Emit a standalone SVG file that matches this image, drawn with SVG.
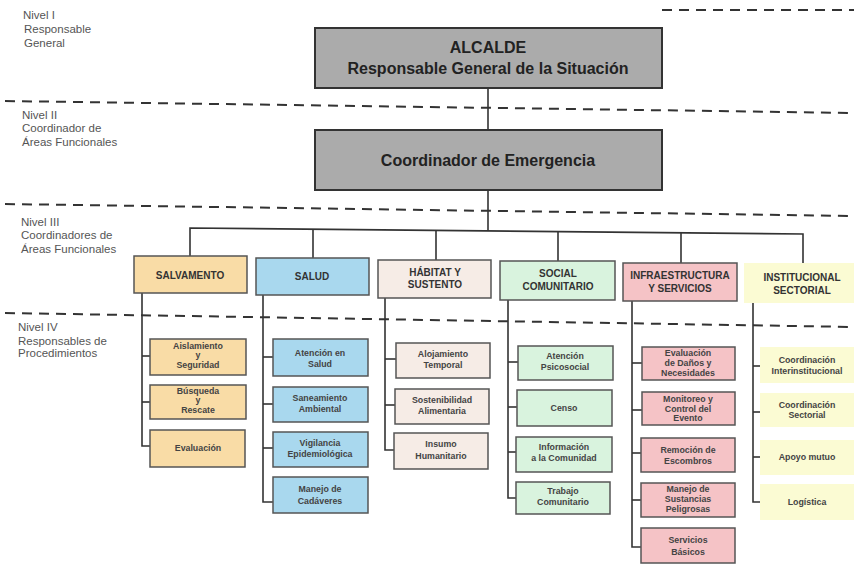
<svg xmlns="http://www.w3.org/2000/svg" width="854" height="568" viewBox="0 0 854 568">
<style>
.bg{fill:#ffffff}
.lvl{font-family:"Liberation Sans",Arial,sans-serif;font-size:11.5px;fill:#555}
.dash{stroke:#333;stroke-width:2;stroke-dasharray:10 7;fill:none}
.con{stroke:#333;stroke-width:1.6;fill:none}
.top rect{fill:#ababab;stroke:#333;stroke-width:2}
.top text{font-family:"Liberation Sans",Arial,sans-serif;font-size:16px;font-weight:bold;fill:#222;text-anchor:middle}
.h rect{stroke:#555;stroke-width:1.5}
.h text{font-family:"Liberation Sans",Arial,sans-serif;font-size:10px;font-weight:bold;fill:#333;text-anchor:middle}
.p rect{stroke:#555;stroke-width:1.5}
.p text{font-family:"Liberation Sans",Arial,sans-serif;font-size:8.8px;font-weight:bold;fill:#444;text-anchor:middle}
.or{fill:#f9dca6}
.bl{fill:#a9d8ee}
.be{fill:#f6ece6}
.gr{fill:#d9f3de}
.pk{fill:#f5c3c6}
.ye{fill:#fbfbd3;stroke:none!important}
</style>
<rect class="bg" width="854" height="568"/>

<g id="levels">
<line class="dash" x1="662" y1="10" x2="854" y2="10"/>
<line class="dash" x1="5" y1="101" x2="854" y2="113"/>
<line class="dash" x1="5" y1="204" x2="854" y2="216"/>
<line class="dash" x1="5" y1="313" x2="854" y2="327"/>
<text class="lvl" x="23" y="19">Nivel I</text>
<text class="lvl" x="24" y="33">Responsable</text>
<text class="lvl" x="24" y="47">General</text>
<text class="lvl" x="22" y="119">Nivel II</text>
<text class="lvl" x="22" y="132">Coordinador de</text>
<text class="lvl" x="22" y="146">Áreas Funcionales</text>
<text class="lvl" x="21" y="226">Nivel III</text>
<text class="lvl" x="21" y="239">Coordinadores de</text>
<text class="lvl" x="21" y="253">Áreas Funcionales</text>
<text class="lvl" x="18" y="331">Nivel IV</text>
<text class="lvl" x="18" y="345">Responsables de</text>
<text class="lvl" x="18" y="357">Procedimientos</text>
</g>

<g id="connectors">
<line class="con" x1="488" y1="88" x2="488" y2="130"/>
<line class="con" x1="488" y1="190" x2="488" y2="231"/>
<polyline class="con" points="190,256 190,228 803,234 803,263"/>
<line class="con" x1="313" y1="229" x2="313" y2="258"/>
<line class="con" x1="436" y1="230" x2="436" y2="260"/>
<line class="con" x1="558" y1="232" x2="558" y2="261"/>
<line class="con" x1="681" y1="233" x2="681" y2="263"/>
<polyline class="con" points="142,293 142,446 150,446"/>
<line class="con" x1="142" y1="356" x2="150" y2="356"/>
<line class="con" x1="142" y1="402" x2="150" y2="402"/>
<polyline class="con" points="263,295 263,502 273,502"/>
<line class="con" x1="263" y1="357" x2="273" y2="357"/>
<line class="con" x1="263" y1="404" x2="273" y2="404"/>
<line class="con" x1="263" y1="448" x2="273" y2="448"/>
<polyline class="con" points="385,298 385,450 394,450"/>
<line class="con" x1="385" y1="359" x2="396" y2="359"/>
<line class="con" x1="385" y1="405" x2="395" y2="405"/>
<polyline class="con" points="508,300 508,498 516,498"/>
<line class="con" x1="508" y1="362" x2="518" y2="362"/>
<line class="con" x1="508" y1="407" x2="517" y2="407"/>
<line class="con" x1="508" y1="452" x2="516" y2="452"/>
<polyline class="con" points="632,301 632,547 641,547"/>
<line class="con" x1="632" y1="363" x2="642" y2="363"/>
<line class="con" x1="632" y1="410" x2="642" y2="410"/>
<line class="con" x1="632" y1="453" x2="641" y2="453"/>
<line class="con" x1="632" y1="500" x2="641" y2="500"/>
<polyline class="con" points="753,303 753,502 762,502"/>
<line class="con" x1="753" y1="366" x2="762" y2="366"/>
<line class="con" x1="753" y1="412" x2="762" y2="412"/>
<line class="con" x1="753" y1="457" x2="762" y2="457"/>
</g>

<g id="alcalde" class="top">
<rect x="315" y="28" width="347" height="60"/>
<text x="488" y="53">ALCALDE</text>
<text x="488" y="74">Responsable General de la Situación</text>
</g>
<g id="coordinador" class="top">
<rect x="315" y="130" width="347" height="60"/>
<text x="488" y="166">Coordinador de Emergencia</text>
</g>

<g id="salvamento" class="h"><rect class="or" x="134" y="256" width="113" height="37"/><text x="190" y="279">SALVAMENTO</text></g>
<g id="salud" class="h"><rect class="bl" x="256" y="258" width="113" height="37"/><text x="312" y="280">SALUD</text></g>
<g id="habitat" class="h"><rect class="be" x="378" y="260" width="113" height="38"/><text x="435" y="276">HÁBITAT Y</text><text x="435" y="288">SUSTENTO</text></g>
<g id="social" class="h"><rect class="gr" x="500" y="261" width="115" height="39"/><text x="558" y="277">SOCIAL</text><text x="558" y="290">COMUNITARIO</text></g>
<g id="infra" class="h"><rect class="pk" x="623" y="263" width="114" height="38"/><text x="680" y="279">INFRAESTRUCTURA</text><text x="680" y="292">Y SERVICIOS</text></g>
<g id="institucional" class="h"><rect class="ye" x="744" y="263" width="110" height="40"/><text x="802" y="281">INSTITUCIONAL</text><text x="802" y="294">SECTORIAL</text></g>

<g id="aislamiento" class="p"><rect class="or" x="150" y="339" width="96" height="36"/><text x="198" y="349">Aislamiento</text><text x="198" y="358">y</text><text x="198" y="368">Seguridad</text></g>
<g id="busqueda" class="p"><rect class="or" x="150" y="385" width="96" height="34"/><text x="198" y="394">Búsqueda</text><text x="198" y="403">y</text><text x="198" y="413">Rescate</text></g>
<g id="evaluacion" class="p"><rect class="or" x="150" y="430" width="95" height="37"/><text x="198" y="451">Evaluación</text></g>

<g id="atencion-salud" class="p"><rect class="bl" x="273" y="339" width="95" height="37"/><text x="320" y="356">Atención en</text><text x="320" y="367">Salud</text></g>
<g id="saneamiento" class="p"><rect class="bl" x="273" y="387" width="95" height="35"/><text x="320" y="401">Saneamiento</text><text x="320" y="412">Ambiental</text></g>
<g id="vigilancia" class="p"><rect class="bl" x="273" y="432" width="95" height="35"/><text x="320" y="446">Vigilancia</text><text x="320" y="457">Epidemiológica</text></g>
<g id="cadaveres" class="p"><rect class="bl" x="273" y="477" width="95" height="36"/><text x="320" y="492">Manejo de</text><text x="320" y="504">Cadáveres</text></g>

<g id="alojamiento" class="p"><rect class="be" x="396" y="343" width="94" height="35"/><text x="443" y="357">Alojamiento</text><text x="443" y="368">Temporal</text></g>
<g id="sostenibilidad" class="p"><rect class="be" x="395" y="389" width="94" height="35"/><text x="442" y="403">Sostenibilidad</text><text x="442" y="414">Alimentaria</text></g>
<g id="insumo" class="p"><rect class="be" x="394" y="433" width="94" height="36"/><text x="441" y="447">Insumo</text><text x="441" y="459">Humanitario</text></g>

<g id="psicosocial" class="p"><rect class="gr" x="518" y="346" width="95" height="34"/><text x="565" y="359">Atención</text><text x="565" y="370">Psicosocial</text></g>
<g id="censo" class="p"><rect class="gr" x="517" y="390" width="95" height="36"/><text x="564" y="411">Censo</text></g>
<g id="informacion" class="p"><rect class="gr" x="516" y="437" width="96" height="35"/><text x="564" y="450">Información</text><text x="564" y="461">a la Comunidad</text></g>
<g id="trabajo" class="p"><rect class="gr" x="516" y="482" width="94" height="32"/><text x="563" y="494">Trabajo</text><text x="563" y="505">Comunitario</text></g>

<g id="danos" class="p"><rect class="pk" x="642" y="347" width="93" height="33"/><text x="688" y="356">Evaluación</text><text x="688" y="366">de Daños y</text><text x="688" y="376">Necesidades</text></g>
<g id="monitoreo" class="p"><rect class="pk" x="642" y="392" width="93" height="33"/><text x="688" y="402">Monitoreo y</text><text x="688" y="412">Control del</text><text x="688" y="421">Evento</text></g>
<g id="remocion" class="p"><rect class="pk" x="641" y="438" width="94" height="34"/><text x="688" y="453">Remoción de</text><text x="688" y="464">Escombros</text></g>
<g id="sustancias" class="p"><rect class="pk" x="641" y="483" width="94" height="34"/><text x="688" y="492">Manejo de</text><text x="688" y="502">Sustancias</text><text x="688" y="512">Peligrosas</text></g>
<g id="servicios" class="p"><rect class="pk" x="641" y="528" width="94" height="35"/><text x="688" y="543">Servicios</text><text x="688" y="555">Básicos</text></g>

<g id="interinstitucional" class="p"><rect class="ye" x="760" y="347" width="94" height="36"/><text x="807" y="363">Coordinación</text><text x="807" y="374">Interinstitucional</text></g>
<g id="sectorial" class="p"><rect class="ye" x="760" y="393" width="94" height="34"/><text x="807" y="408">Coordinación</text><text x="807" y="418">Sectorial</text></g>
<g id="apoyo" class="p"><rect class="ye" x="760" y="440" width="94" height="35"/><text x="807" y="460">Apoyo mutuo</text></g>
<g id="logistica" class="p"><rect class="ye" x="760" y="484" width="94" height="36"/><text x="807" y="505">Logística</text></g>
</svg>
